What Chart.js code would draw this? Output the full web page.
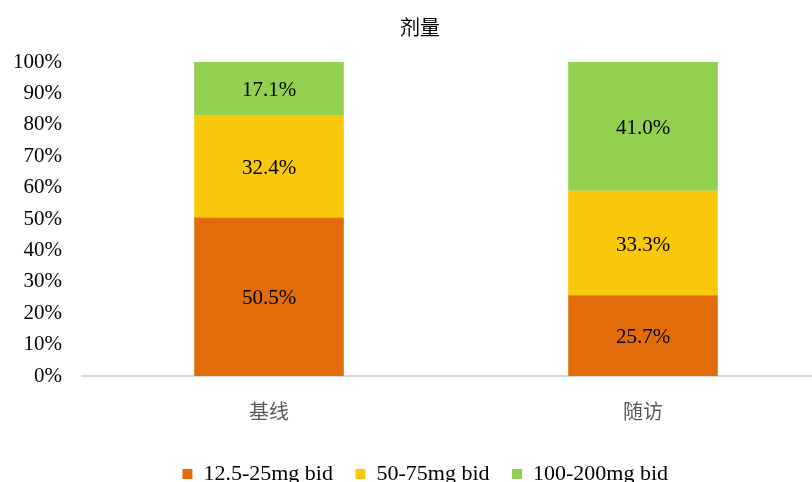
<!DOCTYPE html>
<html>
<head>
<meta charset="utf-8">
<script src="https://cdn.jsdelivr.net/npm/chart.js@4/dist/chart.umd.min.js"></script>
<style>
  html, body { margin: 0; padding: 0; background: #fff; overflow: hidden; }
  #wrap { width: 812px; height: 482px; overflow: hidden; }
</style>
</head>
<body>
<div id="wrap"><canvas id="chart" width="830" height="482"></canvas></div>
<script>
// data
var categories = ['基线', '随访'];
var seriesNames = ['12.5-25mg bid', '50-75mg bid', '100-200mg bid'];
var lowDose = [50.5, 25.7];
var midDose = [32.4, 33.3];
var highDose = [17.1, 41.0];
var colors = ['#E36C0A', '#FAC80A', '#92D050'];

var serif = "'Liberation Serif', 'Times New Roman', serif";
var cjk = "'Noto Sans CJK SC', sans-serif";

// labels in the middle of each segment
var segmentLabels = {
    id: 'segmentLabels',
    afterDatasetsDraw: function (chart) {
        var ctx = chart.ctx;
        ctx.save();
        ctx.font = '21px ' + serif;
        ctx.fillStyle = '#000';
        ctx.textAlign = 'center';
        ctx.textBaseline = 'middle';
        chart.data.datasets.forEach(function (ds, i) {
            chart.getDatasetMeta(i).data.forEach(function (bar, j) {
                ctx.fillText(ds.data[j].toFixed(1) + '%', bar.x, (bar.y + bar.base) / 2 + 2);
            });
        });
        ctx.restore();
    }
};

// nudge title and legend a bit to the right
var nudge = {
    id: 'nudge',
    afterLayout: function (chart) {
        chart.legend.left += 13;
        chart.legend.right += 13;
        chart.titleBlock.left += 5;
        chart.titleBlock.right += 5;
    }
};

var ctx = document.getElementById('chart').getContext('2d');
var chart = new Chart(ctx, {
    type: 'bar',
    data: {
        labels: categories,
        datasets: [
            { label: seriesNames[0], data: lowDose, backgroundColor: colors[0] },
            { label: seriesNames[1], data: midDose, backgroundColor: colors[1] },
            { label: seriesNames[2], data: highDose, backgroundColor: colors[2] }
        ]
    },
    options: {
        responsive: false,
        animation: false,
        layout: { padding: { left: 0, right: 0, top: 0, bottom: -13 } },
        datasets: { bar: { categoryPercentage: 1, barPercentage: 0.4 } },
        scales: {
            x: {
                stacked: true,
                grid: { display: false, drawTicks: false },
                border: { display: true, color: '#D9D9D9', width: 2 },
                ticks: { padding: 23, color: '#595959', font: { family: cjk, size: 20 } }
            },
            y: {
                stacked: true,
                min: 0,
                max: 100,
                grid: { display: false, drawTicks: false },
                border: { display: false },
                ticks: {
                    stepSize: 10,
                    padding: 20,
                    color: '#000',
                    font: { family: serif, size: 21 },
                    callback: function (v) { return v + '%'; }
                },
                afterFit: function (scale) { scale.width = 82; }
            }
        },
        plugins: {
            title: {
                display: true,
                text: '剂量',
                color: '#000',
                font: { family: cjk, size: 20, weight: 'normal' },
                padding: { top: 15, bottom: 23 }
            },
            legend: {
                position: 'bottom',
                labels: {
                    boxWidth: 10,
                    boxHeight: 10,
                    padding: 17,
                    color: '#000',
                    font: { family: serif, size: 22 },
                    generateLabels: function (chart) {
                        // extra gap between legend entries
                        var items = Chart.defaults.plugins.legend.labels.generateLabels(chart);
                        items.forEach(function (item) { item.text = item.text + ' '; });
                        return items;
                    }
                }
            },
            tooltip: { enabled: false }
        }
    },
    plugins: [segmentLabels, nudge]
});
</script>
</body>
</html>
